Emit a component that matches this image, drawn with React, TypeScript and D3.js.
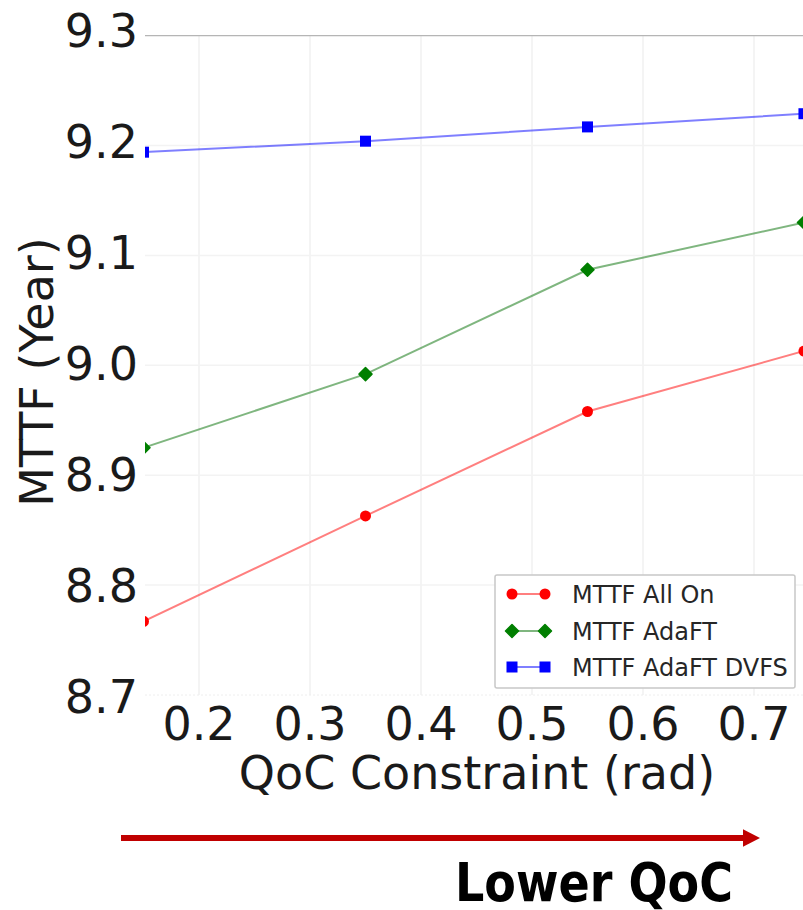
import React from "react";
import * as d3 from "d3";

const qocValues = [0.15, 0.35, 0.55, 0.745];
const mttfAllOn = [8.767, 8.863, 8.958, 9.013];
const mttfAdaFT = [8.925, 8.992, 9.087, 9.13];
const mttfAdaFTDVFS = [9.194, 9.204, 9.217, 9.229];
const yTicks = [8.7, 8.8, 8.9, 9.0, 9.1, 9.2, 9.3];
const xTicks = [0.2, 0.3, 0.4, 0.5, 0.6, 0.7];
const seriesNames = ["MTTF All On", "MTTF AdaFT", "MTTF AdaFT DVFS"];

const W = 803;
const H = 910;
const plotLeft = 145;
const plotRight = 803;

export default function App() {
  const x = d3.scaleLinear().domain([0.2, 0.7]).range([199, 754]);
  const y = d3.scaleLinear().domain([8.7, 9.3]).range([695, 35.7]);
  const yLabel = d3.scaleLinear().domain([8.7, 9.3]).range([713, 46.7]);

  const series = [
    { name: seriesNames[0], values: mttfAllOn, color: "#ff0000", line: "rgba(255,0,0,0.5)", shape: "circle" },
    { name: seriesNames[1], values: mttfAdaFT, color: "#007f00", line: "rgba(0,110,0,0.5)", shape: "diamond" },
    { name: seriesNames[2], values: mttfAdaFTDVFS, color: "#0000ff", line: "rgba(0,0,255,0.5)", shape: "square" },
  ];

  const line = d3
    .line<[number, number]>()
    .x((d) => x(d[0]))
    .y((d) => y(d[1]));

  const marker = (shape: string, cx: number, cy: number, color: string, key: string) => {
    if (shape === "circle") return <circle key={key} cx={cx} cy={cy} r={5.5} fill={color} />;
    if (shape === "square")
      return <rect key={key} x={cx - 5.5} y={cy - 5.5} width={11} height={11} fill={color} />;
    const s = 6.5;
    return (
      <path
        key={key}
        d={`M${cx},${cy - s}L${cx + s},${cy}L${cx},${cy + s}L${cx - s},${cy}Z`}
        fill={color}
        stroke={color}
        strokeWidth={1.5}
        strokeLinejoin="round"
      />
    );
  };

  const font = "DejaVu Sans, sans-serif";
  const legendRows = [594, 631, 667];

  return (
    <svg
      width={W}
      height={H}
      style={{ position: "absolute", left: 0, top: 0, background: "#fff" }}
      xmlns="http://www.w3.org/2000/svg"
    >
      <defs>
        <clipPath id="plotClip">
          <rect x={plotLeft} y={20} width={plotRight - plotLeft} height={690} />
        </clipPath>
      </defs>

      {/* faint grid */}
      {xTicks.map((t) => (
        <line key={"gx" + t} x1={x(t)} x2={x(t)} y1={y(9.3)} y2={y(8.7)} stroke="#f1f1f1" strokeWidth={1.5} />
      ))}
      {yTicks.slice(1, -1).map((t) => (
        <line key={"gy" + t} x1={plotLeft} x2={plotRight} y1={y(t)} y2={y(t)} stroke="#f3f3f3" strokeWidth={1.5} />
      ))}
      <line x1={plotLeft} x2={plotRight} y1={y(8.7)} y2={y(8.7)} stroke="#eeeeee" strokeWidth={1} strokeDasharray="2,2" />
      <line x1={plotLeft} x2={plotRight} y1={y(9.3)} y2={y(9.3)} stroke="#b5b5b5" strokeWidth={1.2} />

      {/* series */}
      <g clipPath="url(#plotClip)">
        {series.map((s) => {
          const pts = qocValues.map((q, i) => [q, s.values[i]] as [number, number]);
          return (
            <g key={s.name}>
              <path d={line(pts) || ""} fill="none" stroke={s.line} strokeWidth={2} />
              {pts.map((p, i) => marker(s.shape, x(p[0]), y(p[1]), s.color, s.name + i))}
            </g>
          );
        })}
      </g>

      {/* y tick labels */}
      {yTicks.map((t) => (
        <text key={"yl" + t} x={138} y={yLabel(t)} textAnchor="end" fontFamily={font} fontSize={46} fill="#1a1a1a">
          {t.toFixed(1)}
        </text>
      ))}

      {/* x tick labels */}
      {xTicks.map((t) => (
        <text key={"xl" + t} x={x(t)} y={740} textAnchor="middle" fontFamily={font} fontSize={46} fill="#1a1a1a">
          {t.toFixed(1)}
        </text>
      ))}

      {/* axis titles */}
      <text x={477} y={789} textAnchor="middle" fontFamily={font} fontSize={46} fill="#1a1a1a">
        QoC Constraint (rad)
      </text>
      <text
        transform="translate(53,372) rotate(-90)"
        textAnchor="middle"
        fontFamily={font}
        fontSize={46}
        fill="#1a1a1a"
      >
        MTTF (Year)
      </text>

      {/* legend */}
      <rect x={495} y={575} width={300} height={113} fill="#fff" stroke="#c8c8c8" strokeWidth={1.5} rx={2} />
      {series.map((s, i) => (
        <g key={"lg" + i}>
          <line x1={512} x2={545} y1={legendRows[i]} y2={legendRows[i]} stroke={s.line} strokeWidth={2} />
          {marker(s.shape, 512, legendRows[i], s.color, "lm1" + i)}
          {marker(s.shape, 545, legendRows[i], s.color, "lm2" + i)}
          <text x={572} y={legendRows[i] + 9} fontFamily={font} fontSize={24} fill="#262626">
            {s.name}
          </text>
        </g>
      ))}

      {/* arrow */}
      <line x1={121} x2={744} y1={838} y2={838} stroke="#c00000" strokeWidth={6} />
      <path d="M743,829.3L760,838L743,846.7Z" fill="#c00000" />
      <text
        x={455}
        y={901}
        fontFamily="DejaVu Sans, sans-serif"
        fontWeight="bold"
        fontSize={54}
        textLength={278}
        lengthAdjust="spacingAndGlyphs"
        fill="#000"
      >
        Lower QoC
      </text>
    </svg>
  );
}
